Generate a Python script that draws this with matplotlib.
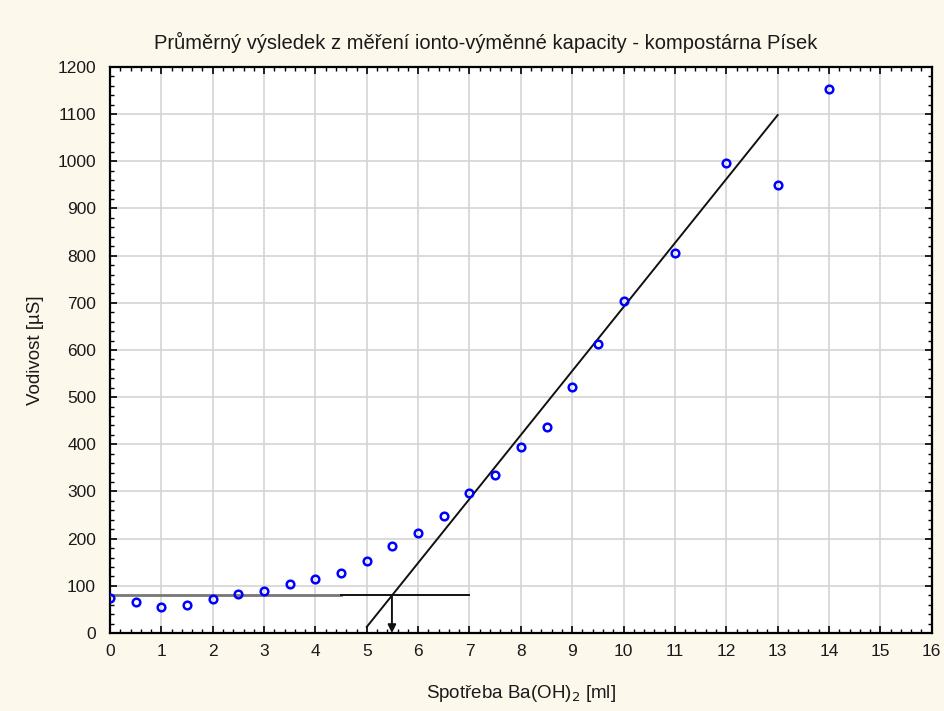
import numpy as np
import matplotlib
matplotlib.use("Agg")
import matplotlib.pyplot as plt
from matplotlib.ticker import MultipleLocator

plt.rcParams['font.family'] = ['Liberation Sans', 'DejaVu Sans']

# measured points
spotreba = [0, 0.5, 1, 1.5, 2, 2.5, 3, 3.5, 4, 4.5, 5, 5.5, 6, 6.5, 7, 7.5,
            8, 8.5, 9, 9.5, 10, 11, 12, 13, 14]
vodivost = [75, 65, 55, 60, 72, 83, 89, 104, 114, 127, 153, 184, 212, 248, 297,
            335, 394, 437, 521, 613, 704, 806, 996, 950, 1153]

# construction lines
fit_x = [5, 13]
fit_y = [13, 1098]
base_left_x = [0, 4.5]
base_right_x = [4.5, 7]
base_y = 80
eq_x = 5.49

bg = '#fdf8ec'
fig = plt.figure(figsize=(9.44, 7.11), dpi=100, facecolor=bg)
ax = fig.add_axes([0.1165, 0.1097, 0.8705, 0.7961])
ax.set_facecolor('white')

ax.plot(spotreba, vodivost, 'o', ls='none', mfc='none', mec='#0000ff',
        ms=5.5, mew=1.8, zorder=4)
ax.plot(fit_x, fit_y, color='#111111', lw=1.4, zorder=3)
ax.plot(base_left_x, [base_y, base_y], color='#777777', lw=2.0, zorder=3)
ax.plot(base_right_x, [base_y, base_y], color='#111111', lw=1.4, zorder=3)
ax.annotate('', xy=(eq_x, 0), xytext=(eq_x, base_y),
            arrowprops=dict(arrowstyle='-|>', color='#111111', lw=1.4,
                            mutation_scale=12, shrinkA=0, shrinkB=0), zorder=5)

ax.set_xlim(0, 16)
ax.set_ylim(0, 1200)
ax.xaxis.set_major_locator(MultipleLocator(1))
ax.xaxis.set_minor_locator(MultipleLocator(0.2))
ax.yaxis.set_major_locator(MultipleLocator(100))
ax.yaxis.set_minor_locator(MultipleLocator(20))
ax.grid(True, which='major', color='#d4d4d4', lw=1.2, zorder=0)
ax.set_axisbelow(True)
ax.tick_params(which='both', direction='in', top=True, right=True,
               colors='black', labelsize=12.5, labelcolor='#1a1a1a')
ax.tick_params(which='major', length=5, width=1.2)
ax.tick_params(which='minor', length=3, width=1.0)
ax.tick_params(axis='x', pad=8)
ax.tick_params(axis='y', pad=10)
for s in ax.spines.values():
    s.set_linewidth(1.6)

fig.text(0.514, 0.94,
         'Průměrný výsledek z měření ionto-výměnné kapacity - kompostárna Písek',
         fontsize=14.5, color='#1a1a1a', ha='center', va='center')
ax.set_xlabel('Spotřeba Ba(OH)$_2$ [ml]', fontsize=13.5, color='#1a1a1a', labelpad=17)
ax.set_ylabel('Vodivost [µS]', fontsize=13.5, color='#1a1a1a', labelpad=10)

fig.savefig('out.png', dpi=100, facecolor=bg)
